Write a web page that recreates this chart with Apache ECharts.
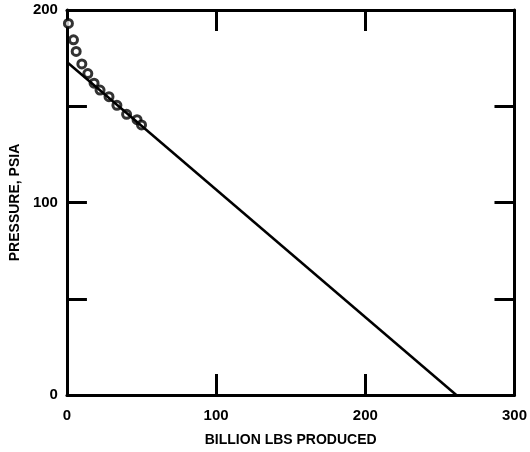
<!DOCTYPE html>
<html>
<head>
<meta charset="utf-8">
<script src="https://cdn.jsdelivr.net/npm/echarts@6/dist/echarts.min.js"></script>
<style>html,body{margin:0;padding:0;background:#fff}#c{width:530px;height:452px}</style>
</head>
<body>
<div id="c"></div>
<script>
var producedX = [1, 4.4, 6.2, 10, 14, 18.2, 22.2, 28.2, 33.5, 40, 47, 50];
var pressureY = [193, 184.5, 178.5, 172, 167, 162, 158.4, 155, 150.5, 145.8, 143, 140.3];
var lineX = [0, 261];
var lineY = [173, 0];
var xTicks = [0, 100, 200, 300];
var yTickLabels = [0, 100, 200];

var pts = producedX.map(function (x, i) { return [x, pressureY[i]]; });
var ln = lineX.map(function (x, i) { return [x, lineY[i]]; });
var font = { fontFamily: 'Liberation Sans', fontWeight: 'bold', fontSize: 14, color: '#000' };
var tickFont = { fontFamily: 'Liberation Sans', fontWeight: 'bold', fontSize: 15, color: '#000' };

function axisCommon(extra) {
  var base = {
    type: 'value',
    axisLine: { show: true, onZero: false, lineStyle: { color: '#000', width: 3 } },
    axisTick: { show: true, inside: true, length: 21, lineStyle: { color: '#000', width: 3 } },
    splitLine: { show: false }
  };
  for (var k in extra) base[k] = extra[k];
  return base;
}

var chart = echarts.init(document.getElementById('c'));
chart.setOption({
  animation: false,
  backgroundColor: '#fff',
  grid: { left: 66, right: 14, top: 10, bottom: 57 },
  xAxis: [
    axisCommon({
      position: 'bottom', min: 0, max: 300, interval: 100,
      name: 'BILLION LBS PRODUCED', nameLocation: 'middle', nameGap: 38,
      nameTextStyle: font,
      axisLabel: Object.assign({ margin: 13, formatter: function (v) { return xTicks.indexOf(v) >= 0 ? String(v) : ''; } }, tickFont)
    }),
    axisCommon({
      position: 'top', min: 0, max: 300, interval: 100,
      axisLabel: { show: false }
    })
  ],
  yAxis: [
    axisCommon({
      position: 'left', min: 0, max: 200, interval: 50,
      name: 'PRESSURE, PSIA', nameLocation: 'middle', nameGap: 37,
      nameTextStyle: font,
      axisTick: { show: true, inside: true, length: 20, lineStyle: { color: '#000', width: 3 } },
      axisLabel: Object.assign({ margin: 9, formatter: function (v) { return yTickLabels.indexOf(v) >= 0 ? String(v) : ''; } }, tickFont)
    }),
    axisCommon({
      position: 'right', min: 0, max: 200, interval: 50,
      axisTick: { show: true, inside: true, length: 20, lineStyle: { color: '#000', width: 3 } },
      axisLabel: { show: false }
    })
  ],
  series: [
    {
      type: 'line', xAxisIndex: 0, yAxisIndex: 0, data: ln,
      showSymbol: false, lineStyle: { color: '#000', width: 2.5 }
    },
    {
      type: 'scatter', xAxisIndex: 0, yAxisIndex: 0, data: pts,
      symbol: 'circle', symbolSize: 8,
      itemStyle: { color: '#fff', borderColor: '#000', borderWidth: 3 }
    }
  ]
});
</script>
</body>
</html>
